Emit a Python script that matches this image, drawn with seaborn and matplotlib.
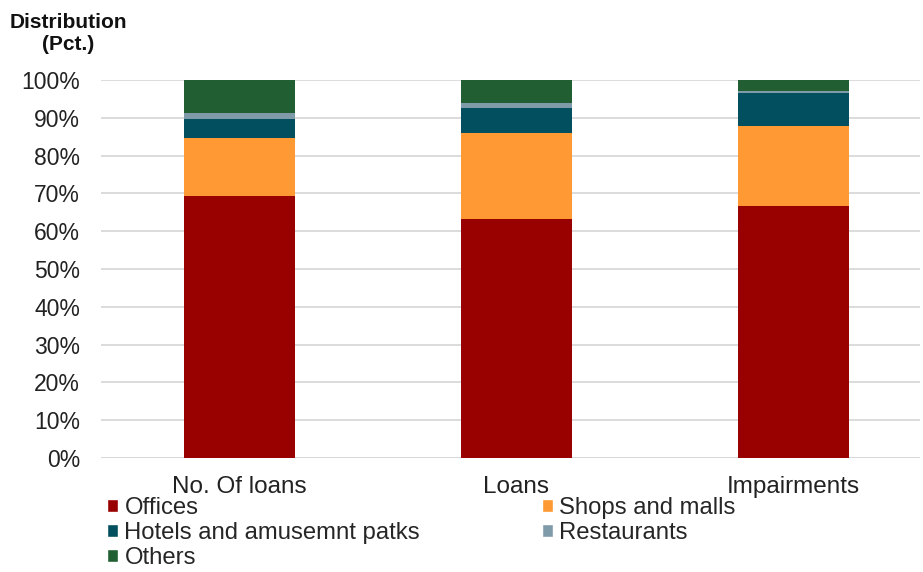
import matplotlib
matplotlib.use("Agg")
import matplotlib.pyplot as plt
import seaborn as sns
import numpy as np
import pandas as pd
from matplotlib.patches import Patch

categories = ["No. Of loans", "Loans", "Impairments"]
series_names = ["Offices", "Shops and malls", "Hotels and amusemnt patks", "Restaurants", "Others"]
offices = [69.3, 63.1, 66.6]
shops = [15.3, 22.8, 21.3]
hotels = [5.0, 6.8, 8.6]
restaurants = [1.7, 1.3, 0.5]
others = [8.7, 6.0, 3.0]
colors = ["#990000", "#FF9933", "#02505F", "#7F9BAA", "#215F32"]
yticks = [0, 10, 20, 30, 40, 50, 60, 70, 80, 90, 100]

sns.set_theme(style="white")
plt.rcParams['font.family'] = ['Liberation Sans', 'DejaVu Sans']

fig = plt.figure(figsize=(9.23, 5.72), dpi=100)
ax = fig.add_axes([101/923, 1 - 458/572, (920 - 101)/923, (458 - 80)/572])

series = [offices, shops, hotels, restaurants, others]
cum = np.cumsum(np.array(series), axis=0)
for i in range(len(series) - 1, -1, -1):
    df = pd.DataFrame({"cat": categories, "val": cum[i]})
    sns.barplot(data=df, x="cat", y="val", color=colors[i], width=0.4,
                saturation=1, ax=ax, zorder=3, linewidth=0)

ax.set_ylim(0, 100)
ax.set_xlim(-0.5, 2.457)
ax.set_yticks(yticks)
ax.set_yticklabels([f"{v}%" for v in yticks], fontsize=16.5, color="#222222")
ax.tick_params(axis="x", labelsize=17.5, colors="#222222", length=0, pad=13)
ax.tick_params(axis="y", length=0, pad=15)
ax.set_xlabel("")
ax.set_ylabel("")
ax.grid(axis="y", color="#D9D9D9", linewidth=1.3, linestyle="-", zorder=0)
for s in ["top", "right", "left", "bottom"]:
    ax.spines[s].set_visible(False)
ax.axhline(0, color="#D9D9D9", linewidth=1.3, zorder=1)

fig.text(68/923, 1 - 33/572, "Distribution\n(Pct.)", ha="center", va="center",
         fontsize=15, fontweight="bold", color="#111111", linespacing=1.2)

handles = [Patch(facecolor=c) for c in colors]
order = [0, 2, 4, 1, 3]
fig.legend([handles[i] for i in order], [series_names[i] for i in order],
           ncol=2, loc="upper left", bbox_to_anchor=(107/923, 1 - 497/572),
           frameon=False, fontsize=17.2, handlelength=0.48, handleheight=0.48,
           handletextpad=0.25, columnspacing=5.1, labelspacing=0.13,
           borderaxespad=0, borderpad=0)

fig.savefig("out.png", dpi=100)
